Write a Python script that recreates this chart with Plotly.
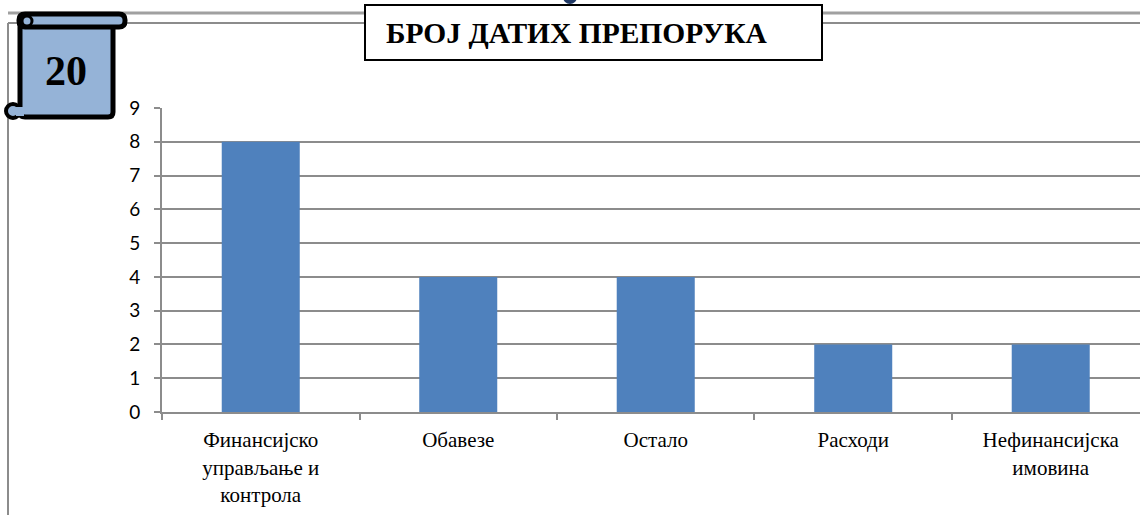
import plotly.graph_objects as go

categories = ["Финансијско<br>управљање и<br>контрола", "Обавезе", "Остало", "Расходи", "Нефинансијска<br>имовина"]
values = [8, 4, 4, 2, 2]
y_ticks = list(range(0, 10))
title_text = "БРОЈ ДАТИХ ПРЕПОРУКА"
badge_text = "20"

W, H = 1140, 515
L, R, T, B = 162, 0, 108, 103
PW = W - L - R
PH = H - T - B

def px(x):
    return (x - L) / PW

def py(y):
    return (H - B - y) / PH

fig = go.Figure()
fig.add_trace(go.Bar(
    x=categories, y=values, width=0.395,
    marker=dict(color="#4F81BD", line=dict(width=0)),
))

shapes = []
# frame lines
shapes.append(dict(type="line", xref="paper", yref="paper", x0=px(8), x1=px(1140), y0=py(13), y1=py(13),
                   line=dict(color="#A0A0A0", width=3), layer="above"))
shapes.append(dict(type="line", xref="paper", yref="paper", x0=px(8), x1=px(1140), y0=py(23), y1=py(23),
                   line=dict(color="#8C8C8C", width=2), layer="above"))
shapes.append(dict(type="line", xref="paper", yref="paper", x0=px(8), x1=px(8), y0=py(23), y1=py(520),
                   line=dict(color="#8C8C8C", width=2), layer="above"))
# title box
shapes.append(dict(type="rect", xref="paper", yref="paper", x0=px(365), x1=px(822), y0=py(60), y1=py(5),
                   fillcolor="white", line=dict(color="black", width=2), layer="above"))
# small dot on top
shapes.append(dict(type="circle", xref="paper", yref="paper", x0=px(563), x1=px(577), y0=py(4), y1=py(-10),
                   fillcolor="#1F3864", line=dict(width=0), layer="above"))

def rpath(x0, y0, x1, y1, r):
    pts = [
        f"M {px(x0 + r)},{py(y0)}",
        f"L {px(x1 - r)},{py(y0)}",
        f"Q {px(x1)},{py(y0)} {px(x1)},{py(y0 + r)}",
        f"L {px(x1)},{py(y1 - r)}",
        f"Q {px(x1)},{py(y1)} {px(x1 - r)},{py(y1)}",
        f"L {px(x0 + r)},{py(y1)}",
        f"Q {px(x0)},{py(y1)} {px(x0)},{py(y1 - r)}",
        f"L {px(x0)},{py(y0 + r)}",
        f"Q {px(x0)},{py(y0)} {px(x0 + r)},{py(y0)}",
        "Z",
    ]
    return " ".join(pts)

# badge (scroll)
shapes.append(dict(type="path", xref="paper", yref="paper", path=rpath(20, 22, 113, 117, 5),
                   fillcolor="#95B3D7", line=dict(color="black", width=5), layer="above"))
shapes.append(dict(type="path", xref="paper", yref="paper", path=rpath(19, 14, 125, 27, 6),
                   fillcolor="#95B3D7", line=dict(color="black", width=5), layer="above"))
shapes.append(dict(type="circle", xref="paper", yref="paper", x0=px(22), x1=px(32), y0=py(26), y1=py(16),
                   fillcolor="#95B3D7", line=dict(color="black", width=3), layer="above"))
shapes.append(dict(type="circle", xref="paper", yref="paper", x0=px(6), x1=px(20), y0=py(118), y1=py(104),
                   fillcolor="#95B3D7", line=dict(color="black", width=4), layer="above"))
shapes.append(dict(type="rect", xref="paper", yref="paper", x0=px(16), x1=px(24), y0=py(116), y1=py(107),
                   fillcolor="#95B3D7", line=dict(width=0), layer="above"))

annotations = [
    dict(text=f"<b>{title_text}</b>", xref="paper", yref="paper", x=px(384), y=py(33),
         xanchor="left", yanchor="middle", showarrow=False,
         font=dict(family="Liberation Serif", size=29.5, color="black")),
    dict(text=f"<b>{badge_text}</b>", xref="paper", yref="paper", x=px(66), y=py(71),
         xanchor="center", yanchor="middle", showarrow=False,
         font=dict(family="Liberation Serif", size=42, color="black")),
]

fig.update_layout(
    width=W, height=H,
    margin=dict(l=L, r=R, t=T, b=B, pad=0),
    paper_bgcolor="white", plot_bgcolor="white",
    showlegend=False,
    shapes=shapes, annotations=annotations,
    bargap=0.605,
)
fig.update_xaxes(
    type="category", range=[-0.5, 4.452],
    showline=True, linecolor="#8C8C8C", linewidth=2,
    ticks="outside", tickson="boundaries", ticklen=6, tickcolor="#8C8C8C", tickwidth=2,
    showgrid=False, ticklabelstandoff=8,
    tickfont=dict(family="Liberation Serif", size=21, color="black"),
)
fig.update_yaxes(
    range=[0, 9], tickvals=y_ticks,
    showline=True, linecolor="#8C8C8C", linewidth=2,
    ticks="outside", ticklen=6, tickcolor="#8C8C8C", tickwidth=2,
    showgrid=True, gridcolor="#8C8C8C", gridwidth=2,
    zeroline=False, ticklabelstandoff=10,
    tickfont=dict(family="Lato", size=19, color="black"),
)

fig.write_html("out.html", config={"displayModeBar": False},
               post_script="document.body.style.margin='0';")
